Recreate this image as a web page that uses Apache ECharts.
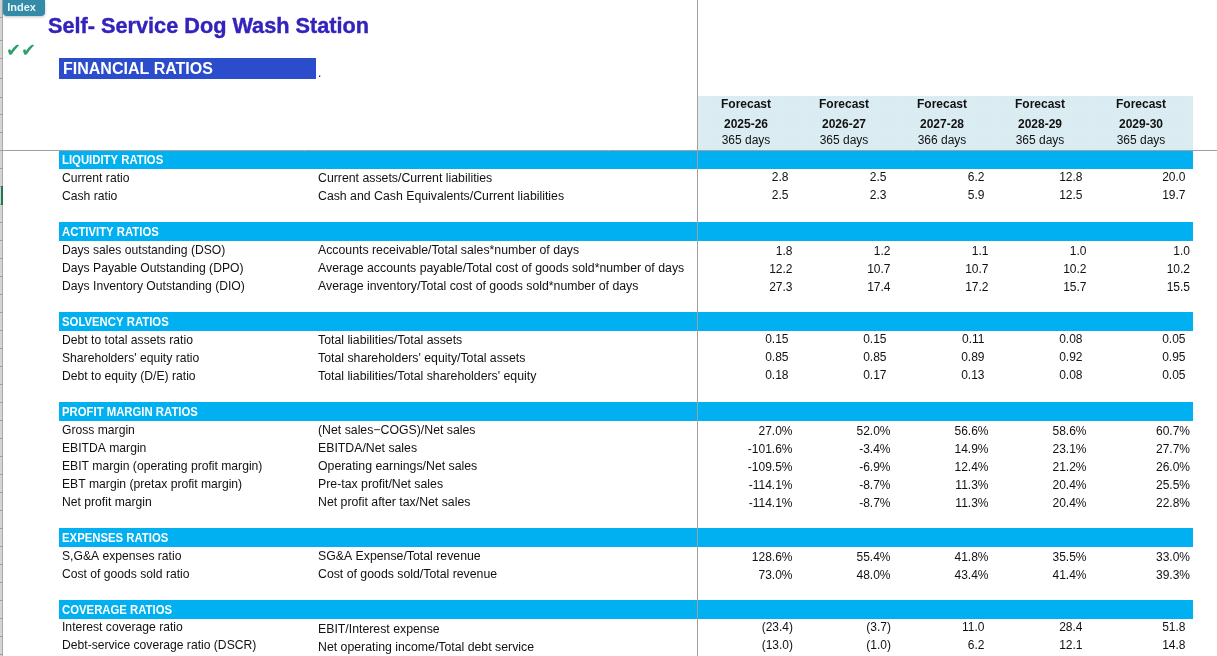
<!DOCTYPE html>
<html>
<head>
<meta charset="utf-8">
<style>html,body{margin:0;padding:0;background:#fff}#main{width:1217px;height:656px}</style>
<script src="https://cdn.jsdelivr.net/npm/echarts@6/dist/echarts.min.js"></script>
</head>
<body>
<div id="main"></div>
<script>
const years = ['2025-26', '2026-27', '2027-28', '2028-29', '2029-30'];
const days = [365, 365, 366, 365, 365];

const liquidityNames = ['Current ratio', 'Cash ratio'];
const liquidityFormulas = ['Current assets/Current liabilities', 'Cash and Cash Equivalents/Current liabilities'];
const liquidityValues = [[2.8, 2.5, 6.2, 12.8, 20.0], [2.5, 2.3, 5.9, 12.5, 19.7]];

const activityNames = ['Days sales outstanding (DSO)', 'Days Payable Outstanding (DPO)', 'Days Inventory Outstanding (DIO)'];
const activityFormulas = ['Accounts receivable/Total sales*number of days', 'Average accounts payable/Total cost of goods sold*number of days', 'Average inventory/Total cost of goods sold*number of days'];
const activityValues = [[1.8, 1.2, 1.1, 1.0, 1.0], [12.2, 10.7, 10.7, 10.2, 10.2], [27.3, 17.4, 17.2, 15.7, 15.5]];

const solvencyNames = ['Debt to total assets ratio', "Shareholders' equity ratio", 'Debt to equity (D/E) ratio'];
const solvencyFormulas = ['Total liabilities/Total assets', "Total shareholders' equity/Total assets", "Total liabilities/Total shareholders' equity"];
const solvencyValues = [[0.15, 0.15, 0.11, 0.08, 0.05], [0.85, 0.85, 0.89, 0.92, 0.95], [0.18, 0.17, 0.13, 0.08, 0.05]];

const marginNames = ['Gross margin', 'EBITDA margin', 'EBIT margin (operating profit margin)', 'EBT margin (pretax profit margin)', 'Net profit margin'];
const marginFormulas = ['(Net sales\u2212COGS)/Net sales', 'EBITDA/Net sales', 'Operating earnings/Net sales', 'Pre-tax profit/Net sales', 'Net profit after tax/Net sales'];
const marginValues = [[27.0, 52.0, 56.6, 58.6, 60.7], [-101.6, -3.4, 14.9, 23.1, 27.7], [-109.5, -6.9, 12.4, 21.2, 26.0], [-114.1, -8.7, 11.3, 20.4, 25.5], [-114.1, -8.7, 11.3, 20.4, 22.8]];

const expenseNames = ['S,G&A expenses ratio', 'Cost of goods sold ratio'];
const expenseFormulas = ['SG&A Expense/Total revenue', 'Cost of goods sold/Total revenue'];
const expenseValues = [[128.6, 55.4, 41.8, 35.5, 33.0], [73.0, 48.0, 43.4, 41.4, 39.3]];

const coverageNames = ['Interest coverage ratio', 'Debt-service coverage ratio (DSCR)'];
const coverageFormulas = ['EBIT/Interest expense', 'Net operating income/Total debt service'];
const coverageValues = [[-23.4, -3.7, 11.0, 28.4, 51.8], [-13.0, -1.0, 6.2, 12.1, 14.8]];

const fixed1 = v => v.toFixed(1);
const fixed2 = v => v.toFixed(2);
const percent = v => v.toFixed(1) + '%';
const paren = v => v < 0 ? '(' + Math.abs(v).toFixed(1) + ')' : v.toFixed(1);

// sheet layout, x axis runs in sheet pixels, y axis is one category per row
const tableLeft = 59, tableRight = 1193, freezeX = 697;
const labelX = 62, formulaX = 318;
const valueX = [788.5, 886.5, 984.5, 1082.5, 1185.5];
const wideX = [792.5, 890.5, 988.5, 1086.5, 1190];
const headerX = [746, 844, 942, 1040, 1141];
const rowCount = 36, firstRow = 8;

const sections = [
  { title: 'LIQUIDITY RATIOS', names: liquidityNames, formulas: liquidityFormulas, values: liquidityValues, fmt: fixed1, xs: valueX, valueDy: 0, formulaDy: 1 },
  { title: 'ACTIVITY RATIOS', names: activityNames, formulas: activityFormulas, values: activityValues, fmt: fixed1, xs: wideX, valueDy: 1.5, formulaDy: 1 },
  { title: 'SOLVENCY RATIOS', names: solvencyNames, formulas: solvencyFormulas, values: solvencyValues, fmt: fixed2, xs: valueX, valueDy: 0, formulaDy: 1 },
  { title: 'PROFIT MARGIN RATIOS', names: marginNames, formulas: marginFormulas, values: marginValues, fmt: percent, xs: wideX, valueDy: 2, formulaDy: 1 },
  { title: 'EXPENSES RATIOS', names: expenseNames, formulas: expenseFormulas, values: expenseValues, fmt: percent, xs: wideX, valueDy: 2, formulaDy: 1 },
  { title: 'COVERAGE RATIOS', names: coverageNames, formulas: coverageFormulas, values: coverageValues, fmt: paren, xs: valueX, valueDy: 0, formulaDy: 2 }
];

const bandRows = [], texts = [];
let row = firstRow;
sections.forEach(function (s) {
  bandRows.push(row);
  texts.push({ x: labelX, row: row, text: s.title, kind: 'band', dy: 1 });
  row++;
  s.names.forEach(function (name, i) {
    texts.push({ x: labelX, row: row, text: name, kind: 'label', dy: s.fmt === paren ? 0 : 1 });
    texts.push({ x: formulaX, row: row, text: s.formulas[i], kind: 'formula', dy: s.formulaDy });
    s.values[i].forEach(function (v, j) {
      // closing bracket hangs past the number's right edge
      const x = s.xs[j] + (s.fmt === paren && v < 0 ? 4.5 : 0);
      texts.push({ x: x, row: row, text: s.fmt(v), kind: 'value', dy: s.valueDy });
    });
    row++;
  });
  row++;
});
years.forEach(function (y, j) {
  texts.push({ x: headerX[j], row: 5, text: 'Forecast', kind: 'forecast', dy: -1 });
  texts.push({ x: headerX[j], row: 6, text: y, kind: 'year', dy: 1 });
  texts.push({ x: headerX[j], row: 7, text: days[j] + ' days', kind: 'days', dy: -1 });
});

const font = '"Liberation Sans", Arial, sans-serif';
const textStyles = {
  band: { fill: '#fff', fontWeight: 'bold', fontSize: 12, align: 'left', scaleX: 0.945 },
  label: { fill: '#111', fontSize: 12.15, align: 'left' },
  formula: { fill: '#111', fontSize: 12.3, align: 'left' },
  value: { fill: '#111', fontSize: 12, align: 'right' },
  forecast: { fill: '#111', fontWeight: 'bold', fontSize: 12, align: 'center' },
  year: { fill: '#111', fontWeight: 'bold', fontSize: 12, align: 'center' },
  days: { fill: '#111', fontSize: 12, align: 'center' }
};

const rowCats = [];
for (let i = 0; i < rowCount; i++) rowCats.push(i);

// gutter row marks on the left edge
const tickYs = [17, 40, 58, 78, 97];
for (let y = 114; y < 656; y += 18) tickYs.push(y);
const leftTicks = tickYs.map(y => ({
  type: 'line', shape: { x1: 0, y1: y + 0.5, x2: 3, y2: y + 0.5 }, style: { stroke: '#a0a0a0', lineWidth: 1 }, z: 2
}));

// faint dotted fill of the header block
const dots = document.createElement('canvas');
dots.width = 3; dots.height = 3;
const dotCtx = dots.getContext('2d');
dotCtx.fillStyle = '#DBEDF3';
dotCtx.fillRect(0, 0, 3, 3);
dotCtx.fillStyle = '#D5E9F0';
dotCtx.fillRect(1, 1, 1, 1);

const chart = echarts.init(document.getElementById('main'), null, { renderer: 'canvas' });
chart.setOption({
  animation: false,
  title: {
    text: 'Self- Service Dog Wash Station',
    left: 48, top: 16, padding: 0,
    textStyle: { color: '#3322BB', fontSize: 21.7, fontWeight: 'bold', fontFamily: font, textBorderColor: '#3322BB', textBorderWidth: 0.4 }
  },
  grid: { left: 0, top: 7, width: 1217, height: 648 },
  xAxis: { type: 'value', min: 0, max: 1217, show: false },
  yAxis: { type: 'category', data: rowCats, inverse: true, show: false },
  graphic: leftTicks.concat([
    { type: 'rect', shape: { x: 0, y: 0, width: 2, height: 656 }, style: { fill: '#d4d4d4' }, z: 1 },
    { type: 'line', shape: { x1: 2.5, y1: 0, x2: 2.5, y2: 656 }, style: { stroke: '#a8a8a8', lineWidth: 1 }, z: 1 },
    { type: 'rect', shape: { x: 1, y: 186, width: 2, height: 19 }, style: { fill: '#1F7A4D' }, z: 3 },
    { type: 'rect', shape: { x: 3, y: 0, width: 42, height: 16, r: [0, 0, 4, 4] }, style: { fill: '#338BA8', shadowBlur: 3, shadowColor: 'rgba(0,0,0,0.25)', shadowOffsetY: 1 }, z: 3 },
    { type: 'text', x: 21.5, y: 8, style: { text: 'Index', fill: '#EAF4F7', fontFamily: font, fontWeight: 'bold', fontSize: 11, align: 'center', verticalAlign: 'middle' }, z: 4 },
    { type: 'text', x: 6, y: 51, style: { text: '\u2714\u2714', fill: '#2E9E6E', fontFamily: '"DejaVu Sans"', fontSize: 18, align: 'left', verticalAlign: 'middle' }, z: 4 },
    { type: 'rect', shape: { x: 59, y: 58, width: 257, height: 21 }, style: { fill: '#2B4CCB' }, z: 2 },
    { type: 'text', x: 63, y: 70, style: { text: 'FINANCIAL RATIOS', fill: '#fff', fontFamily: font, fontWeight: 'bold', fontSize: 16, align: 'left', verticalAlign: 'middle' }, z: 3 },
    { type: 'text', x: 318, y: 74, style: { text: '.', fill: '#111', fontFamily: font, fontSize: 12, align: 'left', verticalAlign: 'middle' }, z: 3 },
    { type: 'rect', shape: { x: freezeX, y: 96, width: tableRight - freezeX, height: 54 }, style: { fill: { image: dots, repeat: 'repeat' } }, z: 0 }
  ]),
  series: [
    {
      type: 'custom',
      coordinateSystem: 'cartesian2d',
      clip: false,
      z: 2,
      data: bandRows.map(r => [tableLeft, r]),
      encode: { x: 0, y: 1 },
      renderItem: function (params, api) {
        const p = api.coord([tableLeft, api.value(1)]);
        const q = api.coord([tableRight, api.value(1)]);
        const h = api.size([0, 1])[1];
        // every band but the first sits one pixel taller
        const extra = params.dataIndex === 0 ? 0 : 1;
        return { type: 'rect', shape: { x: p[0], y: p[1] - h / 2 - extra, width: q[0] - p[0], height: h + extra }, style: { fill: '#00B0F0' } };
      }
    },
    {
      // frozen pane lines
      type: 'custom',
      coordinateSystem: 'none',
      silent: true,
      z: 5,
      data: [0],
      renderItem: function () {
        return {
          type: 'group',
          children: [
            { type: 'line', shape: { x1: freezeX + 0.5, y1: 0, x2: freezeX + 0.5, y2: 656 }, style: { stroke: '#A0A0A0', lineWidth: 1 } },
            { type: 'line', shape: { x1: 0, y1: 150.5, x2: 1217, y2: 150.5 }, style: { stroke: '#A0A0A0', lineWidth: 1 } }
          ]
        };
      }
    },
    {
      type: 'custom',
      coordinateSystem: 'cartesian2d',
      clip: false,
      z: 6,
      data: texts.map(t => [t.x, t.row]),
      encode: { x: 0, y: 1 },
      renderItem: function (params, api) {
        const t = texts[params.dataIndex];
        const st = textStyles[t.kind];
        const p = api.coord([t.x, t.row]);
        return {
          type: 'text', x: p[0], y: p[1] + t.dy, scaleX: st.scaleX || 1,
          style: { text: t.text, fill: st.fill, fontFamily: font, fontWeight: st.fontWeight || 'normal', fontSize: st.fontSize, align: st.align, verticalAlign: 'middle' }
        };
      }
    }
  ]
});
</script>
</body>
</html>
